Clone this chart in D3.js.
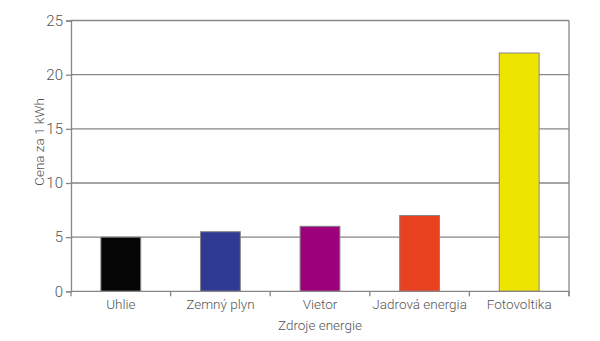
<!DOCTYPE html>
<html><head><meta charset="utf-8">
<script src="https://cdn.jsdelivr.net/npm/d3@7"></script>
<style>body{margin:0;background:#fff}svg text{font-family:Roboto,"Open Sans",sans-serif;fill:#555;font-weight:300}</style>
</head><body><svg id="c" width="600" height="341"></svg>
<script>
const categories = ["Uhlie","Zemný plyn","Vietor","Jadrová energia","Fotovoltika"];
const values = [5, 5.5, 6, 7, 22];
const colors = ["#050505","#2f3a93","#9c007a","#e8411f","#ede500"];
const yTicks = [0,5,10,15,20,25];

const svg = d3.select("#c");
const mLeft = 71, mRight = 569, mTop = 20.5, mBottom = 291.3;
const x = d3.scaleBand().domain(categories).range([mLeft,mRight]).paddingInner(0.6).paddingOuter(0.3);
const y = d3.scaleLinear().domain([0,25]).range([mBottom,mTop]);
const grey = "#8a8388";

// gridlines
svg.append("g").selectAll("line").data(yTicks.filter(d=>d>0)).join("line")
  .attr("x1",mLeft).attr("x2",mRight).attr("y1",d=>y(d)).attr("y2",d=>y(d))
  .attr("stroke",grey).attr("stroke-width",1.3);
// right border
svg.append("line").attr("x1",mRight).attr("x2",mRight).attr("y1",y(25)).attr("y2",y(0)+5)
  .attr("stroke",grey).attr("stroke-width",1.3);

// bars
svg.append("g").selectAll("rect").data(values).join("rect")
  .attr("x",(d,i)=>x(categories[i])).attr("width",x.bandwidth())
  .attr("y",d=>y(d)).attr("height",d=>y(0)-y(d))
  .attr("fill",(d,i)=>colors[i]).attr("stroke",grey).attr("stroke-width",1);

// y axis
const ya = svg.append("g").attr("transform",`translate(${mLeft},0)`)
  .call(d3.axisLeft(y).tickValues(yTicks).tickSize(5).tickPadding(3));
ya.select(".domain").attr("stroke",grey).attr("stroke-width",1.3);
ya.selectAll(".tick line").attr("stroke",grey).attr("stroke-width",1.3);
ya.selectAll(".tick text").style("font-size","15px").attr("fill","#555").style("font-family","Roboto").style("font-weight","300");

// x axis
const xa = svg.append("g").attr("transform",`translate(0,${mBottom})`)
  .call(d3.axisBottom(x).tickSize(0).tickPadding(8));
xa.select(".domain").attr("stroke",grey).attr("stroke-width",1.3).attr("d",`M${mLeft},0H${mRight}`);
xa.selectAll(".tick text").style("font-size","13.5px").attr("fill","#555").style("font-family","Roboto").style("font-weight","300");
const bounds = d3.range(categories.length+1).map(i=>mLeft+i*x.step());
svg.append("g").selectAll("line").data(bounds).join("line")
  .attr("x1",d=>d).attr("x2",d=>d).attr("y1",mBottom).attr("y2",mBottom+5)
  .attr("stroke",grey).attr("stroke-width",1.3);

// axis titles
svg.append("text").attr("x",(mLeft+mRight)/2).attr("y",330).attr("text-anchor","middle")
  .style("font-size","13.5px").text("Zdroje energie");
svg.append("text").attr("transform","translate(44,142) rotate(-90)").attr("text-anchor","middle")
  .style("font-size","13.5px").text("Cena za 1 kWh");
</script></body></html>
